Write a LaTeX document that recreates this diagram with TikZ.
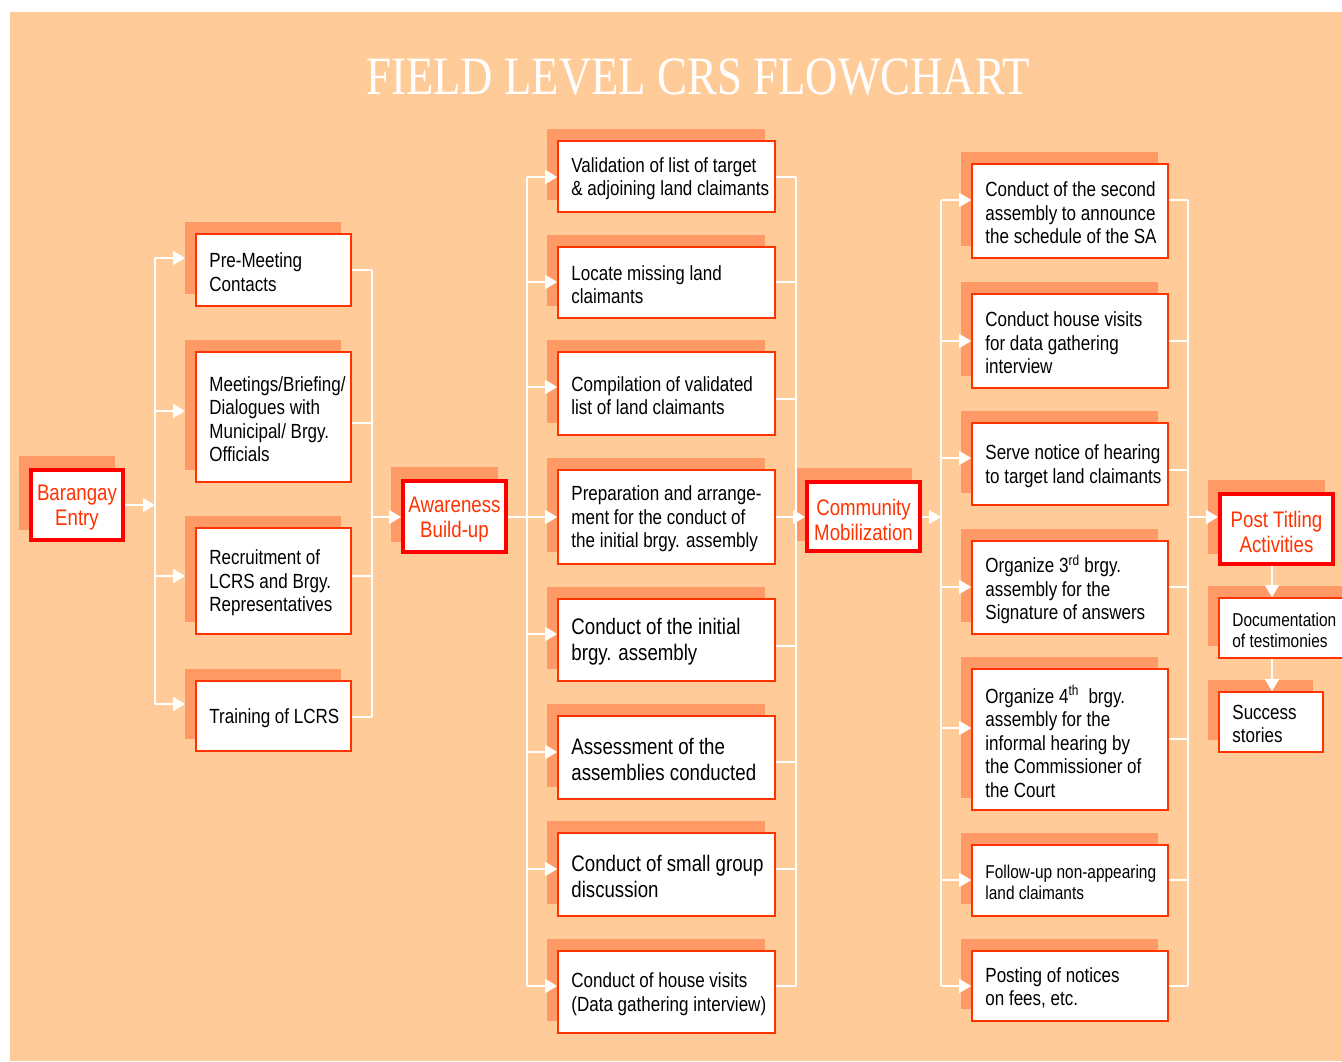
\documentclass[tikz,border=0pt]{standalone}
\usepackage{fontspec}
\setmainfont{Liberation Sans}[FakeStretch=0.83]
\newfontfamily\titlefont{Liberation Serif}[FakeStretch=0.83]
\usetikzlibrary{arrows.meta,fit,calc}
\definecolor{peach}{HTML}{FFCC99}
\definecolor{shadowc}{HTML}{FF9966}
\definecolor{edgec}{HTML}{FF3300}
\definecolor{redtxt}{HTML}{FF3300}
\tikzset{
 boxst/.style={draw=edgec, line width=1.6pt, fill=white, inner sep=0pt},
 mainst/.style={draw=red, line width=4pt, fill=white, inner sep=0pt},
 shd/.style={fill=shadowc, inner sep=0pt, outer sep=0pt},
 txt/.style={inner sep=0pt, align=left, anchor=west, yshift=-2pt, font=\fontsize{20.5}{23.5}\selectfont},
 txtL/.style={txt, font=\fontsize{22.5}{26}\selectfont},
 txtS/.style={txt, font=\fontsize{18.6}{21}\selectfont},
 maintxt/.style={inner sep=0pt, align=center, yshift=-3pt, text=redtxt, font=\fontsize{22.5}{25}\selectfont},
 wire/.style={draw=white, line width=1.6pt},
 arr/.style={wire, -{Triangle[length=12pt,width=14pt]}}
}
% name, x1, y1, x2, y2, text style, text
\newcommand\mkbox[7]{%
  \node[shd, fit={(#2-11,#3-12)(#4-10,#5-12)}] (#1s) {};
  \node[boxst, fit={(#2,#3)(#4,#5)}] (#1) {};
  \node[#6] (#1t) at ([xshift=14pt]#1.west) {#7};
}
% name, x1, y1, x2, y2 (line centre), text
\newcommand\mkmain[6]{%
  \node[shd, fit={(#2-12,#3-14)(#4-8,#5-10)}] (#1s) {};
  \node[mainst, fit={(#2,#3)(#4,#5)}] (#1) {};
  \node[maintxt] (#1t) at (#1.center) {#6};
}
\begin{document}
\begin{tikzpicture}[x=1pt,y=-1pt]
\useasboundingbox (0,0) rectangle (1342,1061);
\fill[white] (0,0) rectangle (1342,1061);
\fill[peach] (10,12) rectangle (1342,1061);
\node[text=white, font=\titlefont\fontsize{54}{60}\selectfont, inner sep=0pt, anchor=base] (title) at (698,94) {FIELD LEVEL CRS FLOWCHART};

% ---------- main boxes
\mkmain{be}{31}{470}{123}{540}{Barangay\\ Entry}
\mkmain{ab}{403}{481}{506}{552}{Awareness\\ Build-up}
\mkmain{cm}{807}{482}{920}{551}{Community\\ Mobilization}
\mkmain{pt}{1220}{494}{1333}{564}{Post Titling\\ Activities}

% ---------- left column
\mkbox{L1}{196}{234}{351}{306}{txt}{Pre-Meeting\\Contacts}
\mkbox{L2}{196}{352}{351}{482}{txt}{Meetings/Briefing/\\Dialogues with\\Municipal/ Brgy.\\Officials}
\mkbox{L3}{196}{528}{351}{634}{txt}{Recruitment of\\LCRS and Brgy.\\Representatives}
\mkbox{L4}{196}{681}{351}{751}{txt}{Training of LCRS}

% ---------- middle column
\mkbox{M1}{558}{141}{775}{212}{txt}{Validation of list of target\\\& adjoining land claimants}
\mkbox{M2}{558}{247}{775}{318}{txt}{Locate missing land\\claimants}
\mkbox{M3}{558}{352}{775}{435}{txt}{Compilation of validated\\list of land claimants}
\mkbox{M4}{558}{470}{775}{564}{txt}{Preparation and arrange-\\ment for the conduct of\\the initial brgy. assembly}
\mkbox{M5}{558}{599}{775}{681}{txtL}{Conduct of the initial\\brgy. assembly}
\mkbox{M6}{558}{716}{775}{799}{txtL}{Assessment of the\\assemblies conducted}
\mkbox{M7}{558}{833}{775}{916}{txtL}{Conduct of small group\\discussion}
\mkbox{M8}{558}{951}{775}{1033}{txt}{Conduct of house visits\\(Data gathering interview)}

% ---------- right column
\mkbox{R1}{972}{164}{1168}{258}{txt}{Conduct of the second\\assembly to announce\\the schedule of the SA}
\mkbox{R2}{972}{294}{1168}{388}{txt}{Conduct house visits\\for data gathering\\interview}
\mkbox{R3}{972}{423}{1168}{505}{txt}{Serve notice of hearing\\to target land claimants}
\mkbox{R4}{972}{541}{1168}{634}{txt}{Organize 3\textsuperscript{rd} brgy.\\assembly for the\\Signature of answers}
\mkbox{R5}{972}{669}{1168}{810}{txt}{Organize 4\textsuperscript{th}\ \ brgy.\\assembly for the\\informal hearing by\\the Commissioner of\\the Court}
\mkbox{R6}{972}{845}{1168}{916}{txtS}{Follow-up non-appearing\\land claimants}
\mkbox{R7}{972}{951}{1168}{1021}{txt}{Posting of notices\\on fees, etc.}

% ---------- post titling column
\mkbox{P1}{1219}{598}{1352}{658}{txtS}{Documentation\\of testimonies}
\mkbox{P2}{1219}{692}{1323}{752}{txt}{Success\\stories}

% ---------- bus coordinates
\coordinate (bA) at (155,505);
\coordinate (bB) at (372,517);
\coordinate (bC) at (527,517);
\coordinate (bD) at (796,517);
\coordinate (bE) at (941,517);
\coordinate (bF) at (1188,517);

% ---------- left column wiring
\draw[wire] (bA |- 0,258) -- (bA |- 0,704);
\draw[arr] (be.east |- bA) -- (bA);
\draw[arr] (bA |- 0,258) -- (L1s.west |- 0,258);
\draw[arr] (bA |- 0,411) -- (L2s.west |- 0,411);
\draw[arr] (bA |- 0,576) -- (L3s.west |- 0,576);
\draw[arr] (bA |- 0,704) -- (L4s.west |- 0,704);
\draw[wire] (bB |- 0,270) -- (bB |- 0,717);
\draw[wire] (L1.east |- 0,270) -- (bB |- 0,270);
\draw[wire] (L2.east |- 0,423) -- (bB |- 0,423);
\draw[wire] (L3.east |- 0,576) -- (bB |- 0,576);
\draw[wire] (L4.east |- 0,717) -- (bB |- 0,717);
\draw[arr] (bB) -- (ab.west |- bB);

% ---------- middle column wiring
\draw[wire] (bC |- 0,177) -- (bC |- 0,986);
\draw[arr] (ab.east |- bC) -- (M4.west |- bC);
\draw[arr] (bC |- 0,177) -- (M1.west |- 0,177);
\draw[arr] (bC |- 0,282) -- (M2.west |- 0,282);
\draw[arr] (bC |- 0,387) -- (M3.west |- 0,387);
\draw[arr] (bC |- 0,634) -- (M5.west |- 0,634);
\draw[arr] (bC |- 0,752) -- (M6.west |- 0,752);
\draw[arr] (bC |- 0,869) -- (M7.west |- 0,869);
\draw[arr] (bC |- 0,986) -- (M8.west |- 0,986);
\draw[wire] (bD |- 0,177) -- (bD |- 0,986);
\draw[wire] (M1.east |- 0,177) -- (bD |- 0,177);
\draw[wire] (M2.east |- 0,282) -- (bD |- 0,282);
\draw[wire] (M3.east |- 0,399) -- (bD |- 0,399);
\draw[wire] (M5.east |- 0,646) -- (bD |- 0,646);
\draw[wire] (M6.east |- 0,762) -- (bD |- 0,762);
\draw[wire] (M7.east |- 0,869) -- (bD |- 0,869);
\draw[wire] (M8.east |- 0,986) -- (bD |- 0,986);
\draw[arr] (M4.east |- bD) -- (cm.west |- bD);

% ---------- right column wiring
\draw[arr] (cm.east |- bE) -- (bE);
\draw[wire] (bE |- 0,200) -- (bE |- 0,986);
\draw[arr] (bE |- 0,200) -- (R1.west |- 0,200);
\draw[arr] (bE |- 0,341) -- (R2.west |- 0,341);
\draw[arr] (bE |- 0,458) -- (R3.west |- 0,458);
\draw[arr] (bE |- 0,587) -- (R4.west |- 0,587);
\draw[arr] (bE |- 0,728) -- (R5.west |- 0,728);
\draw[arr] (bE |- 0,880) -- (R6.west |- 0,880);
\draw[arr] (bE |- 0,986) -- (R7.west |- 0,986);
\draw[wire] (bF |- 0,200) -- (bF |- 0,986);
\draw[wire] (R1.east |- 0,200) -- (bF |- 0,200);
\draw[wire] (R2.east |- 0,341) -- (bF |- 0,341);
\draw[wire] (R3.east |- 0,470) -- (bF |- 0,470);
\draw[wire] (R4.east |- 0,587) -- (bF |- 0,587);
\draw[wire] (R5.east |- 0,739) -- (bF |- 0,739);
\draw[wire] (R6.east |- 0,880) -- (bF |- 0,880);
\draw[wire] (R7.east |- 0,986) -- (bF |- 0,986);
\draw[arr] (bF) -- (pt.west |- bF);

% ---------- post titling chain
\draw[arr] (pt.south -| 1272,0) -- (P1.north -| 1272,0);
\draw[arr] (P1.south -| 1272,0) -- (P2.north -| 1272,0);
\end{tikzpicture}
\end{document}
